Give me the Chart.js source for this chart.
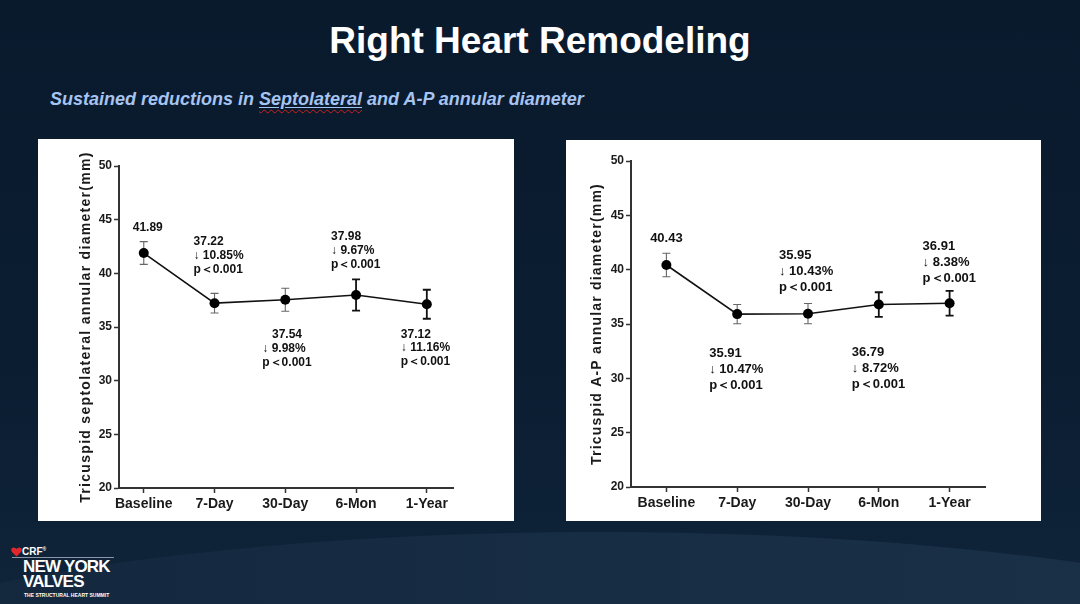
<!DOCTYPE html>
<html>
<head>
<meta charset="utf-8">
<script src="https://cdn.jsdelivr.net/npm/chart.js@4.4.0/dist/chart.umd.min.js"></script>
<style>
  body {
    margin: 0;
    width: 1080px;
    height: 604px;
    overflow: hidden;
    position: relative;
    background: linear-gradient(180deg, #0a1a2d 0%, #0b1d31 60%, #0f243a 100%);
    font-family: "Liberation Sans", Arial, sans-serif;
  }
  .swoosh {
    position: absolute;
    left: -300px;
    top: 532px;
    width: 1800px;
    height: 400px;
    border-radius: 50%;
    background: linear-gradient(90deg, #12263b 0%, #172d44 50%, #1b3249 100%);
  }
  #title {
    position: absolute;
    left: 0;
    width: 1080px;
    top: 20px;
    text-align: center;
    color: #fff;
    font-weight: bold;
    font-size: 37px;
  }
  #subtitle {
    position: absolute;
    left: 50px;
    top: 89px;
    color: #a6c4f2;
    font-weight: bold;
    font-style: italic;
    font-size: 18px;
  }
  #subtitle .sq {
    text-decoration: underline;
    text-decoration-color: #a6c4f2;
    text-underline-offset: 2px;
  }
  #subtitle .sq span {
    text-decoration: underline wavy #d02020;
    text-decoration-thickness: 1px;
    text-underline-offset: 4px;
  }
  .panel {
    position: absolute;
    background: #fff;
  }
  #panel-left { left: 38px; top: 139px; width: 476px; height: 382px; }
  #panel-right { left: 566px; top: 140px; width: 475px; height: 381px; }
  #logo {
    position: absolute;
    left: 10px;
    top: 544px;
    color: #fff;
  }
  #logo .crf { position: absolute; left: 12px; top: 2px; font-size: 10px; font-weight: bold; }
  #logo .rule { position: absolute; left: 2px; top: 13px; width: 102px; height: 1px; background: #8a96a6; }
  #logo .ny { position: absolute; left: 13px; top: 15px; font-size: 17px; font-weight: bold; line-height: 15px; letter-spacing: -0.8px; width: 110px; }
  #logo .tag { position: absolute; left: 14px; top: 48px; font-size: 5px; font-weight: bold; white-space: nowrap; }
</style>
</head>
<body>
<div class="swoosh"></div>
<div id="title">Right Heart Remodeling</div>
<div id="subtitle">Sustained reductions in <span class="sq"><span>Septolateral</span></span> and A-P annular diameter</div>

<div class="panel" id="panel-left"><canvas id="chartLeft"></canvas></div>
<div class="panel" id="panel-right"><canvas id="chartRight"></canvas></div>

<div id="logo">
  <svg width="11" height="10" viewBox="0 0 11 10" style="position:absolute;left:1px;top:3px">
    <path d="M5.5 9.5 L1 5 C-0.5 3.3 0.3 0.5 2.8 0.5 C4 0.5 5 1.3 5.5 2.2 C6 1.3 7 0.5 8.2 0.5 C10.7 0.5 11.5 3.3 10 5 Z" fill="#e0282c"/>
  </svg>
  <div class="crf">CRF<sup style="font-size:5px">®</sup></div>
  <div class="rule"></div>
  <div class="ny">NEW YORK<br>VALVES</div>
  <div class="tag">THE STRUCTURAL HEART SUMMIT</div>
</div>

<script>
// time points
var timepoints = ["Baseline", "7-Day", "30-Day", "6-Mon", "1-Year"];
var tickPositions = [0, 1, 2, 3, 4];

// septolateral diameter (mm)
var septoMean = [41.89, 37.22, 37.54, 37.98, 37.12];
var septoErr = [1.06, 0.91, 1.07, 1.45, 1.35];
var septoDrop = [null, 10.85, 9.98, 9.67, 11.16];

// A-P diameter (mm)
var apMean = [40.43, 35.91, 35.95, 36.79, 36.91];
var apErr = [1.08, 0.89, 0.93, 1.13, 1.14];
var apDrop = [null, 10.47, 10.43, 8.72, 8.38];

var pText = "p\uFF1C0.001";

var yTicks = { min: 20, max: 50, step: 5 };

var FONT = '"Liberation Sans", Arial, sans-serif';
Chart.defaults.font.family = FONT;
Chart.defaults.color = "#1a1a1a";

function buildNotes(mean, drop) {
    let notes = [];
    for (let i = 0; i < mean.length; i++) {
        if (drop[i] == null) {
            notes.push([mean[i].toFixed(2)]);
        } else {
            notes.push([mean[i].toFixed(2), "\u2193 " + drop[i].toFixed(2) + "%", pText]);
        }
    }
    return notes;
}

const errorBars = {
    id: 'errorBars',
    beforeDatasetsDraw(chart, args, opts) {
        const ctx = chart.ctx;
        const xs = chart.scales.x;
        const ys = chart.scales.y;
        const data = chart.data.datasets[0].data;
        ctx.save();
        for (let i = 0; i < data.length; i++) {
            const x = xs.getPixelForValue(data[i].x);
            const top = ys.getPixelForValue(data[i].y + opts.errors[i]);
            const bot = ys.getPixelForValue(data[i].y - opts.errors[i]);
            ctx.strokeStyle = opts.colors[i];
            ctx.lineWidth = opts.widths[i];
            ctx.beginPath();
            ctx.moveTo(x, top); ctx.lineTo(x, bot);
            ctx.moveTo(x - opts.cap, top); ctx.lineTo(x + opts.cap, top);
            ctx.moveTo(x - opts.cap, bot); ctx.lineTo(x + opts.cap, bot);
            ctx.stroke();
        }
        ctx.restore();
    }
};

// the y titles in the figure are letter-spaced
const spacedTitle = {
    id: 'spacedTitle',
    beforeDraw(chart, args, opts) {
        const s = chart.scales.y;
        if (s._spaced) return;
        const orig = s.drawTitle;
        s.drawTitle = function () {
            const c = this.ctx;
            const prev = c.letterSpacing;
            c.letterSpacing = opts.spacing;
            orig.call(this);
            c.letterSpacing = prev;
        };
        s._spaced = true;
    }
};

const valueNotes = {
    id: 'valueNotes',
    afterDatasetsDraw(chart, args, opts) {
        const ctx = chart.ctx;
        const pts = chart.getDatasetMeta(0).data;
        ctx.save();
        ctx.font = "bold " + opts.size + "px " + FONT;
        ctx.fillStyle = "#111";
        ctx.textBaseline = "middle";
        opts.notes.forEach(function (lines, i) {
            const o = opts.place[i];
            const x0 = pts[i].x + o.dx;
            const y0 = pts[i].y + o.dy;
            let blockW = 0;
            lines.forEach(function (l) { blockW = Math.max(blockW, ctx.measureText(l).width); });
            lines.forEach(function (l, j) {
                let x = x0;
                ctx.textAlign = "left";
                if (o.align == "center") {
                    ctx.textAlign = "center";
                } else if (o.align == "head" && j == 0) {
                    ctx.textAlign = "center";
                    x = x0 + blockW / 2;
                }
                ctx.fillText(l, x, y0 + j * opts.lineH);
            });
        });
        ctx.restore();
    }
};

function makeChart(canvasID, mean, err, drop, cfg) {
    const ctx = document.getElementById(canvasID).getContext('2d');
    const pts = mean.map(function (v, i) { return { x: tickPositions[i], y: v }; });
    return new Chart(ctx, {
        type: 'line',
        data: {
            datasets: [{
                data: pts,
                borderColor: '#111',
                borderWidth: 1.6,
                pointRadius: 5,
                pointBackgroundColor: '#000',
                pointBorderWidth: 0,
                fill: false,
                tension: 0
            }]
        },
        plugins: [spacedTitle, errorBars, valueNotes],
        options: {
            responsive: true,
            maintainAspectRatio: false,
            animation: false,
            layout: { padding: cfg.padding },
            plugins: {
                legend: { display: false },
                tooltip: { enabled: false },
                spacedTitle: { spacing: cfg.titleSpacing },
                errorBars: {
                    errors: err,
                    colors: ['#666', '#666', '#666', '#111', '#111'],
                    widths: [1.1, 1.1, 1.1, 1.8, 1.8],
                    cap: 4
                },
                valueNotes: {
                    notes: buildNotes(mean, drop),
                    place: cfg.place,
                    size: cfg.noteSize,
                    lineH: cfg.lineH
                }
            },
            scales: {
                x: {
                    type: 'linear',
                    min: cfg.xMin,
                    max: cfg.xMax,
                    afterBuildTicks: function (s) {
                        s.ticks = tickPositions.map(function (v) { return { value: v }; });
                    },
                    afterFit: function (s) { s.height = cfg.xHeight; },
                    border: { color: '#333', width: 2 },
                    grid: { drawOnChartArea: false, tickLength: 5, tickColor: '#333', tickWidth: 1.5 },
                    ticks: {
                        padding: 3,
                        maxRotation: 0,
                        font: { size: 14, weight: 'bold' },
                        callback: function (v) { return timepoints[v]; }
                    }
                },
                y: {
                    min: yTicks.min,
                    max: yTicks.max,
                    afterFit: function (s) { s.width = cfg.yWidth; },
                    border: { color: '#333', width: 2 },
                    grid: { drawOnChartArea: false, tickLength: 5, tickColor: '#333', tickWidth: 1.5 },
                    ticks: {
                        stepSize: yTicks.step,
                        padding: 2,
                        font: { size: 12, weight: 'bold' }
                    },
                    title: {
                        display: true,
                        text: cfg.yTitle,
                        font: { size: 14, weight: 'bold' },
                        padding: { top: cfg.titlePad, bottom: 0 }
                    }
                }
            }
        }
    });
}

makeChart("chartLeft", septoMean, septoErr, septoDrop, {
    yTitle: "Tricuspid septolateral annular diameter(mm)",
    titleSpacing: "1.3px",
    padding: { left: 0, top: 27, right: 61, bottom: 0 },
    yWidth: 81,
    xHeight: 33,
    xMin: -0.35,
    xMax: 4.37,
    titlePad: 40,
    noteSize: 12,
    lineH: 13.8,
    place: [
        { dx: 4, dy: -25, align: "center" },
        { dx: -21, dy: -61, align: "left" },
        { dx: -23, dy: 35, align: "head" },
        { dx: -25, dy: -58, align: "left" },
        { dx: -26, dy: 30, align: "left" }
    ]
});

makeChart("chartRight", apMean, apErr, apDrop, {
    yTitle: "Tricuspid A-P annular diameter(mm)",
    titleSpacing: "1.2px",
    padding: { left: 0, top: 21, right: 56, bottom: 0 },
    yWidth: 65,
    xHeight: 34,
    xMin: -0.5,
    xMax: 4.5,
    titlePad: 23,
    noteSize: 13,
    lineH: 16,
    place: [
        { dx: 0, dy: -27, align: "center" },
        { dx: -28, dy: 39, align: "left" },
        { dx: -29, dy: -58, align: "left" },
        { dx: -27, dy: 48, align: "left" },
        { dx: -27, dy: -57, align: "left" }
    ]
});
</script>
</body>
</html>
